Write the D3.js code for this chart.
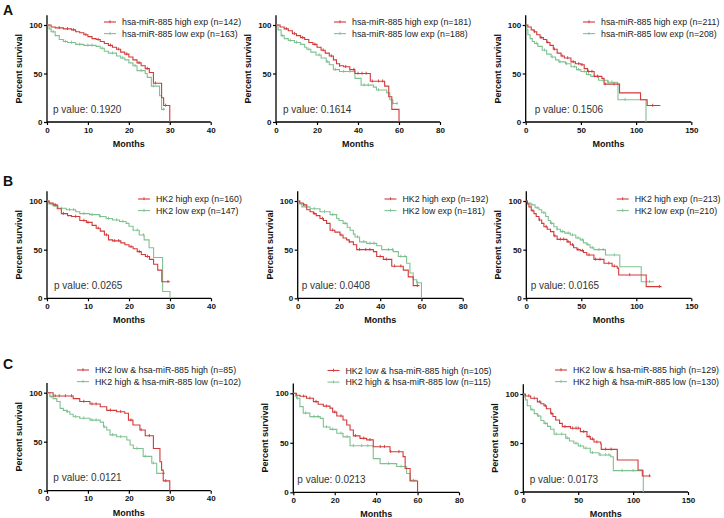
<!DOCTYPE html>
<html><head><meta charset="utf-8">
<script src="https://cdn.jsdelivr.net/npm/d3@7"></script>
<style>
html,body{margin:0;padding:0;background:#fff;}
svg{display:block;font-family:"Liberation Sans",Arial,sans-serif;}
</style></head>
<body><svg id="c" width="724" height="518"></svg>
<script>
// ---------- data ----------
const panelLetters = ["A","B","C"];
const xMaxes = [40, 80, 150, 40, 80, 150, 40, 80, 150];
const xTickSets = [[0,10,20,30,40],[0,20,40,60,80],[0,50,100,150]];
const yTicks = [0, 50, 100];
const pValues = ["0.1920","0.1614","0.1506","0.0265","0.0408","0.0165","0.0121","0.0213","0.0173"];
const highLabels = [
 "hsa-miR-885 high exp (n=142)","hsa-miR-885 high exp (n=181)","hsa-miR-885 high exp (n=211)",
 "HK2 high exp (n=160)","HK2 high exp (n=192)","HK2 high exp (n=213)",
 "HK2 low & hsa-miR-885 high (n=85)","HK2 low & hsa-miR-885 high (n=105)","HK2 low & hsa-miR-885 high (n=129)"];
const lowLabels = [
 "hsa-miR-885 low exp (n=163)","hsa-miR-885 low exp (n=188)","hsa-miR-885 low exp (n=208)",
 "HK2 low exp (n=147)","HK2 low exp (n=181)","HK2 low exp (n=210)",
 "HK2 high & hsa-miR-885 low (n=102)","HK2 high & hsa-miR-885 low (n=115)","HK2 high & hsa-miR-885 low (n=130)"];

// survival step points [month, percent]
const a1High = [[0,100],[1,98],[2,97],[4,96],[6,95],[7,93],[8,92],[9,90],[10,88],[11,86],[12,85],[13,83],[14,81],[15,79],[16,77],[17,75],[18,72],[19,70],[20,67],[21,64],[22,61],[23,58],[24,55],[25,51],[26,40],[28,25],[28.5,17],[30,0]];
const a1Low = [[0,100],[0.5,96],[1,93],[2,89],[3,85],[4,83],[5,82],[7,80],[9,79],[12,78],[13,76],[14,73],[15,71],[17,68],[18,66],[19,64],[20,61],[21,58],[22,53],[24,50],[24.5,46],[25.5,37],[27.5,27],[28,13],[28.8,13]];
const a2High = [[0,100],[2,98],[4,96],[6,94],[8,91],[10,89],[12,87],[14,85],[16,82],[18,80],[20,77],[22,74],[24,71],[26,68],[28,64],[29.5,60],[31,58],[33,57],[36,54],[38.5,50],[46,42],[53,37],[55,26],[56.5,13],[60,0]];
const a2Low = [[0,100],[1,95],[2.5,89],[4,86],[6,84],[9,82],[12,80],[14,77],[15,75],[17,72],[19.5,69],[22,66],[24.5,62],[26,59],[28,54],[31,52],[38.5,45],[41.5,38],[47.5,36],[49,33],[54,30],[55.5,23],[57,19],[59.5,19]];
const a3High = [[0,100],[2,98],[5,95],[7.5,93],[10,90],[13,87],[16,85],[19,82],[22,79],[25,75],[28.5,71],[32,68],[35,66],[41,62],[45,60],[50,59],[53,55],[56,52],[62,47],[69,45],[71,39],[85,30],[104,23],[110,17],[122,17]];
const a3Low = [[0,100],[1,95],[2,90],[4,86],[6,83],[8,81],[11,78],[15,74],[19,70],[23,67],[27,64],[30,62],[36,60],[41,57],[46,54],[50,52],[55,49],[59,47],[66,43],[74,41],[83,40],[83.6,23],[109,0]];
const b1High = [[0,100],[0.5,98],[1.5,96],[2.5,92],[3.5,87],[5,85],[6,84],[8,80],[9.6,78],[11,75],[12,72],[13,69],[14,65],[15,60],[16,59],[18,57],[19,55],[20,53],[21,51],[22,48],[23,45],[24,43],[25,40],[26,35],[27,29],[28,17],[30,17]];
const b1Low = [[0,100],[0.5,97],[1.5,95],[2.7,92.5],[4.7,91],[7,89],[8,87],[10.4,86],[12.8,84],[14.4,82],[16,80.5],[17.7,79],[19.3,77],[20,74],[21,70],[22.5,65],[23.7,60],[24.9,52],[26,42],[28.2,7],[30,0]];
const b2High = [[0,100],[1,98],[2.7,96],[4.4,91],[6,89],[7.6,87],[9,85],[10.8,82],[12.5,80],[14,77],[15.7,70],[18,68],[20.5,65],[22,62],[23.7,60],[25,58],[27,55],[28.6,50],[36.7,48],[38.3,43],[41.5,40],[45.6,33],[51.2,29],[53.6,22],[56,13],[59,13]];
const b2Low = [[0,100],[1,97],[2,94],[6,92],[10.8,89],[15.7,86],[18.9,82],[20,80],[22,77],[24,73],[25.4,70],[27,66],[27.8,63],[30,58],[33.4,56.5],[38.3,54],[40.7,50],[46.3,48],[48.8,43],[52.8,36],[54.4,26],[56,19],[57.7,16],[60,0]];
const b3High = [[0,100],[1,97],[2.4,94],[4.5,90],[7,87],[9,84],[11.5,80.5],[14,77],[16,73.6],[19,71],[22,68.5],[25,64],[28,60.6],[37,58],[40,55],[43,52],[46,50],[49,49],[52,47],[55,44.5],[61.5,40],[70.6,36],[78,33],[82.7,31],[84,24],[109,12],[123,12]];
const b3Low = [[0,100],[1,98],[4,96],[8,93],[11.5,91],[14,88],[17.6,84],[20,80],[22,77],[25,73.6],[28,71],[31,68.5],[35,67],[40,65],[45,62],[49,60],[52,57],[55,55],[58,52],[61.5,50],[72,44.5],[85,32.5],[104.5,17],[116,17]];
const c1High = [[0,100],[1.5,96.6],[6.4,94],[8,91],[10.5,88.4],[13,85.7],[14.6,82],[17,80.6],[19,79],[19.9,72],[21,67],[22.7,62],[24,56],[26,43],[27.6,29.6],[28,21],[28.4,10],[30,0]];
const c1Low = [[0,100],[0.7,96],[1.5,94],[2.4,91],[3.2,84],[4,82],[4.8,80.6],[5.6,78],[6.4,75.5],[8,74],[10.5,72],[13,70],[13.8,65],[14.6,62],[15.4,57],[17,55],[19.5,51.7],[20.3,46.6],[21.1,43],[23.5,35],[25.6,28],[26.8,17.7],[28.8,17.7]];
const c2High = [[0,100],[1.5,98],[3.2,97],[6.4,95],[9.7,91.6],[12,89],[14.5,87],[17.7,85],[19,81],[21,77],[24,73],[25.8,68],[27.4,63],[29,57],[32.2,54.5],[35.4,53],[38.6,46],[46.7,41],[53,36],[54,24],[56.4,11.4],[60,0]];
const c2Low = [[0,100],[1,97],[1.6,95],[3.2,86.5],[4.8,80],[8,76.4],[13,74.7],[14.5,66],[17.7,63.6],[21,59.6],[24,56],[27.4,47],[38.6,34],[41.9,29],[49.9,26],[54.7,19],[56.4,12],[59.6,12]];
const c3High = [[0,100],[2,98],[6.7,95.6],[12.8,92],[16,90],[18.8,88],[21,85],[24.9,80],[27,77],[29.5,73.5],[33,70],[35.5,66.7],[43,65],[52,61.6],[58,56.5],[61,54],[64.4,51],[70.5,49],[71,43.5],[85.6,32.6],[104.5,22.4],[108.4,16.3],[116,16.3]];
const c3Low = [[0,100],[1,97],[2,94],[3.6,88],[6.7,84],[10,80],[12.8,77.6],[16,73],[18.8,70],[22,67],[24.9,64],[28,59],[38.6,55],[42,52],[46,49.7],[50,47],[55,44.6],[61,40],[69,37.8],[79.6,36],[82,21.8],[109.3,0]];

// censored times (months)
const a1HighCens = [3,5,6.5,9.5,12.5,15.5,17.5,19.5,22.5,24.5,26.5,29];
const a1LowCens = [1.5,4.5,6,8,10,11,13.5,16,18.5,21.5,23,26,28.5];
const a2HighCens = [5,9,13,19,23,27,31,34,38,40,42,44,47,50,52];
const a2LowCens = [3,7,10,16,21,25,29,33,36,43,45,50,57,59];
const a3HighCens = [8,14,20,26,33,38,43,48,51,57,60,65,72,80,115];
const a3LowCens = [10,17,24,31,37,44,48,53,57,62,70,75,78,90];
const b1HighCens = [2,4,7,9,10,12.5,14.5,16.5,17.5,20.5,22.5,24.5,29.5];
const b1LowCens = [1,2,3.5,5.5,6.5,9,11,13,15,17,18.5,22,23.5];
const b2HighCens = [3,8,12,17,21,25,30,33,35,40,43,47,50,58];
const b2LowCens = [4,8,13,17,23,29,32,35,37,44,46,50,52,58];
const b3HighCens = [6,12,18,26,31,34,38,42,47,51,57,63,67,75,80,94,121];
const b3LowCens = [5,10,16,23,28,33,38,42,47,51,56,60,66,70,80,112];
const c1HighCens = [2,3,4.5,6,9,11,12,15.5,18,20.5,23,25,29];
const c1LowCens = [1,5,7,9,11,12,14,16,18,22,24,26,28.5];
const c2HighCens = [5,8,11,16,20,23,30,34,37,42,44,47,51];
const c2LowCens = [2,6,10,12,16,19,23,26,29,33,36,46,52,58];
const c3HighCens = [5,10,15,20,26,38,45,48,50,55,60,63,67,75,80,115];
const c3LowCens = [8,14,20,30,35,40,48,52,57,63,70,75,78,90,100];

const highCurves = [a1High,a2High,a3High,b1High,b2High,b3High,c1High,c2High,c3High];
const lowCurves = [a1Low,a2Low,a3Low,b1Low,b2Low,b3Low,c1Low,c2Low,c3Low];
const highCens = [a1HighCens,a2HighCens,a3HighCens,b1HighCens,b2HighCens,b3HighCens,c1HighCens,c2HighCens,c3HighCens];
const lowCens = [a1LowCens,a2LowCens,a3LowCens,b1LowCens,b2LowCens,b3LowCens,c1LowCens,c2LowCens,c3LowCens];

// ---------- layout (pixel positions) ----------
const layout = [
 {x0:47,   x1:210.7, y0:122,   y100:25,    lx:104,   ly:22,  px:53},
 {x0:276,  x1:440,   y0:122,   y100:25,    lx:334,   ly:22,  px:283},
 {x0:525.7,x1:691.3, y0:122,   y100:25,    lx:583,   ly:22,  px:534.7},
 {x0:47,   x1:211,   y0:298.3, y100:201,   lx:138,   ly:199, px:54},
 {x0:297.7,x1:462.7, y0:298.3, y100:201,   lx:384.5, ly:199, px:301.7},
 {x0:526.3,x1:691.3, y0:298.3, y100:201,   lx:616.7, ly:199, px:530.7},
 {x0:47,   x1:210.7, y0:490.7, y100:392.7, lx:77,    ly:370, px:53.3},
 {x0:293.3,x1:459,   y0:492.3, y100:393.3, lx:327.5, ly:370.5,px:297.3},
 {x0:523.3,x1:688,   y0:492,   y100:394,   lx:555,   ly:370, px:529.7}
];
const letterPos = [[3,15],[3,186],[3,369]];
const RED = "#d23a3a", GREEN = "#7fc291";

const svg = d3.select("#c");

panelLetters.forEach((L,i)=>{
  svg.append("text").attr("x",letterPos[i][0]).attr("y",letterPos[i][1])
    .attr("font-size",14).attr("font-weight","bold").attr("fill","#111").text(L);
});

function survAt(curve, t){
  const bis = d3.bisector(d=>d[0]).right;
  const i = bis(curve, t) - 1;
  return curve[Math.max(0,i)][1];
}

layout.forEach((L, k)=>{
  const xmax = xMaxes[k];
  const x = d3.scaleLinear().domain([0, xmax]).range([L.x0, L.x1]);
  const y = d3.scaleLinear().domain([0, 100]).range([L.y0, L.y100]);
  const yTop = y(110);
  const g = svg.append("g");

  const xa = g.append("g").attr("transform",`translate(0,${L.y0})`)
    .call(d3.axisBottom(x).tickValues(xTickSets[k%3]).tickSize(3).tickPadding(2).tickFormat(d3.format("d")));
  const ya = g.append("g").attr("transform",`translate(${L.x0},0)`)
    .call(d3.axisLeft(d3.scaleLinear().domain([0,110]).range([L.y0, yTop])).tickValues(yTicks).tickSize(3).tickPadding(1.5).tickFormat(d3.format("d")));
  [xa,ya].forEach(a=>{
    a.select(".domain").attr("stroke","#000").attr("stroke-width",1.3);
    a.selectAll(".tick line").attr("stroke","#000").attr("stroke-width",1.2);
    a.selectAll(".tick text").attr("font-size",8).attr("font-weight","bold").attr("fill","#111")
      .attr("font-family","'Liberation Sans',Arial,sans-serif");
  });
  xa.select(".domain").attr("d",`M${L.x0},0H${L.x1}`);
  ya.select(".domain").attr("d",`M0,${L.y0}V${yTop}`);

  g.append("text").attr("x",(L.x0+L.x1)/2).attr("y",L.y0+25)
    .attr("text-anchor","middle").attr("font-size",9).attr("font-weight","bold").attr("fill","#111").text("Months");
  g.append("text").attr("transform",`translate(${L.x0-25},${(L.y0+yTop)/2}) rotate(-90)`)
    .attr("text-anchor","middle").attr("font-size",9).attr("font-weight","bold").attr("fill","#111").text("Percent survival");

  const line = d3.line().x(d=>x(d[0])).y(d=>y(d[1])).curve(d3.curveStepAfter);
  [[lowCurves[k], lowCens[k], GREEN],[highCurves[k], highCens[k], RED]].forEach(([c, cens, col])=>{
    g.append("path").attr("d", line(c)).attr("fill","none").attr("stroke",col).attr("stroke-width",1.1);
    g.selectAll(null).data(cens).enter().append("line")
      .attr("x1",d=>x(d)).attr("x2",d=>x(d))
      .attr("y1",d=>y(survAt(c,d))-1.8).attr("y2",d=>y(survAt(c,d))+1.2)
      .attr("stroke",col).attr("stroke-width",0.9);
  });

  [[highLabels[k],RED,0],[lowLabels[k],GREEN,11.6]].forEach(([t,col,dy])=>{
    const yy = L.ly+dy;
    g.append("line").attr("x1",L.lx).attr("x2",L.lx+12).attr("y1",yy).attr("y2",yy).attr("stroke",col).attr("stroke-width",1.1);
    g.append("line").attr("x1",L.lx+6).attr("x2",L.lx+6).attr("y1",yy-1.8).attr("y2",yy+1.2).attr("stroke",col).attr("stroke-width",0.9);
    g.append("text").attr("x",L.lx+18).attr("y",yy+3.2).attr("font-size",8.8).attr("fill","#222").text(t);
  });

  g.append("text").attr("x",L.px).attr("y",L.y0-9.5).attr("font-size",10).attr("fill","#333").text("p value: "+pValues[k]);
});
</script></body></html>
